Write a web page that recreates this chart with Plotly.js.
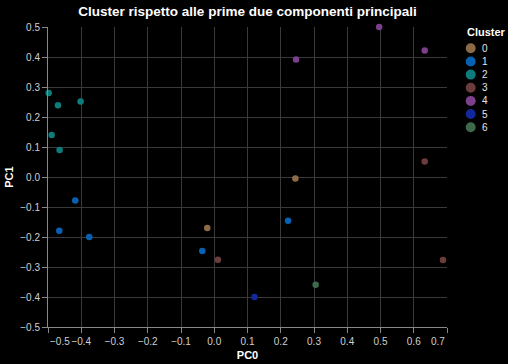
<!DOCTYPE html>
<html>
<head>
<meta charset="utf-8">
<script src="https://cdn.plot.ly/plotly-3.0.1.min.js"></script>
<style>html,body{margin:0;padding:0;background:#000;}#chart{width:508px;height:364px;}</style>
</head>
<body>
<div id="chart"></div>
<script>
// Data
const clusterNames = ["0", "1", "2", "3", "4", "5", "6"];
const clusterColors = ["#8c6a47", "#0661b2", "#0f7c7c", "#6c3b3b", "#7c3f8b", "#13289a", "#3e6a4b"];

const pc0 = [
  -0.021, 0.244,                                   // cluster 0
  -0.418, -0.466, -0.376, -0.036, 0.222,           // cluster 1
  -0.498, -0.470, -0.402, -0.489, -0.465,          // cluster 2
  0.011, 0.688, 0.633,                             // cluster 3
  0.496, 0.633, 0.246,                             // cluster 4
  0.121,                                           // cluster 5
  0.305                                            // cluster 6
];
const pc1 = [
  -0.170, -0.005,
  -0.078, -0.179, -0.200, -0.247, -0.146,
  0.280, 0.239, 0.252, 0.140, 0.090,
  -0.276, -0.277, 0.052,
  0.500, 0.422, 0.392,
  -0.400,
  -0.359
];
const cluster = [
  "0", "0",
  "1", "1", "1", "1", "1",
  "2", "2", "2", "2", "2",
  "3", "3", "3",
  "4", "4", "4",
  "5",
  "6"
];
const xTicks = [-0.5, -0.4, -0.3, -0.2, -0.1, 0.0, 0.1, 0.2, 0.3, 0.4, 0.5, 0.6, 0.7];
const yTicks = [-0.5, -0.4, -0.3, -0.2, -0.1, 0.0, 0.1, 0.2, 0.3, 0.4, 0.5];

const FONT = "Liberation Sans, Arial, sans-serif";
const W = 508, H = 364;
const M = {l: 48, r: 61, t: 27, b: 37};
const PW = W - M.l - M.r, PH = H - M.t - M.b;
const px2x = p => (p - M.l) / PW;
const py2y = p => (H - M.b - p) / PH;

const traces = clusterNames.map((c, k) => {
  const xs = [], ys = [];
  cluster.forEach((v, i) => { if (v === c) { xs.push(pc0[i]); ys.push(pc1[i]); } });
  return {
    type: "scatter", mode: "markers", name: c, x: xs, y: ys,
    cliponaxis: false, showlegend: false,
    marker: {color: clusterColors[k], size: 6.5, line: {width: 0}},
    hoverinfo: "x+y+name"
  };
});

const fmt = v => (v < 0 ? "\u2212" : "") + Math.abs(v).toFixed(1);

const annotations = [
  {xref: "x", yref: "paper", x: xTicks[0], y: 0, yshift: -7, xanchor: "left", yanchor: "top",
   text: fmt(xTicks[0]), showarrow: false, font: {family: FONT, size: 10, color: "#cfcfcf"}},
  {xref: "x", yref: "paper", x: xTicks[xTicks.length - 1], y: 0, yshift: -7, xanchor: "right", yanchor: "top",
   text: fmt(xTicks[xTicks.length - 1]), showarrow: false, font: {family: FONT, size: 10, color: "#cfcfcf"}},
  {xref: "paper", yref: "paper", x: px2x(465), y: py2y(32.5), xanchor: "left", yanchor: "middle",
   text: "<b>Cluster</b>", showarrow: false, font: {family: FONT, size: 11, color: "#ffffff"}}
];
const shapes = [];
clusterNames.forEach((c, k) => {
  const cy = 48.3 + 13.15 * k, cx = 470.7, r = 5;
  shapes.push({type: "circle", xref: "paper", yref: "paper",
    x0: px2x(cx - r), x1: px2x(cx + r), y0: py2y(cy + r), y1: py2y(cy - r),
    fillcolor: clusterColors[k], line: {width: 0}});
  annotations.push({xref: "paper", yref: "paper", x: px2x(480), y: py2y(cy), xanchor: "left", yanchor: "middle",
    text: c, showarrow: false, font: {family: FONT, size: 10, color: "#e6e6e6"}});
});

const axisCommon = {
  showgrid: true, gridcolor: "#3a3a3a", gridwidth: 1,
  zeroline: false, showline: true, linecolor: "#888888", linewidth: 1,
  ticks: "outside", ticklen: 5, tickcolor: "#888888", tickwidth: 1,
  tickfont: {family: FONT, size: 10, color: "#cfcfcf"},
  automargin: false, fixedrange: true
};

const layout = {
  width: W, height: H,
  margin: M,
  paper_bgcolor: "#000000", plot_bgcolor: "#000000",
  font: {family: FONT, color: "#ffffff"},
  title: {text: "<b>Cluster rispetto alle prime due componenti principali</b>",
    font: {family: FONT, size: 13.5, color: "#ffffff"},
    xref: "paper", x: 0.5, xanchor: "center", yref: "container", y: 1 - 11 / H, yanchor: "middle"},
  xaxis: Object.assign({}, axisCommon, {
    range: [-0.5, 0.7], tickmode: "array",
    tickvals: xTicks, ticktext: xTicks.map((v, i) => (i === 0 || i === xTicks.length - 1) ? "" : fmt(v)),
    title: {text: "<b>PC0</b>", font: {family: FONT, size: 11, color: "#ffffff"}, standoff: 5}
  }),
  yaxis: Object.assign({}, axisCommon, {
    range: [-0.5, 0.5], tickmode: "array",
    tickvals: yTicks, ticktext: yTicks.map(fmt),
    title: {text: "<b>PC1</b>", font: {family: FONT, size: 11, color: "#ffffff"}, standoff: 4}
  }),
  annotations: annotations,
  shapes: shapes,
  showlegend: false
};

Plotly.newPlot("chart", traces, layout, {displayModeBar: false, staticPlot: true});
</script>
</body>
</html>
